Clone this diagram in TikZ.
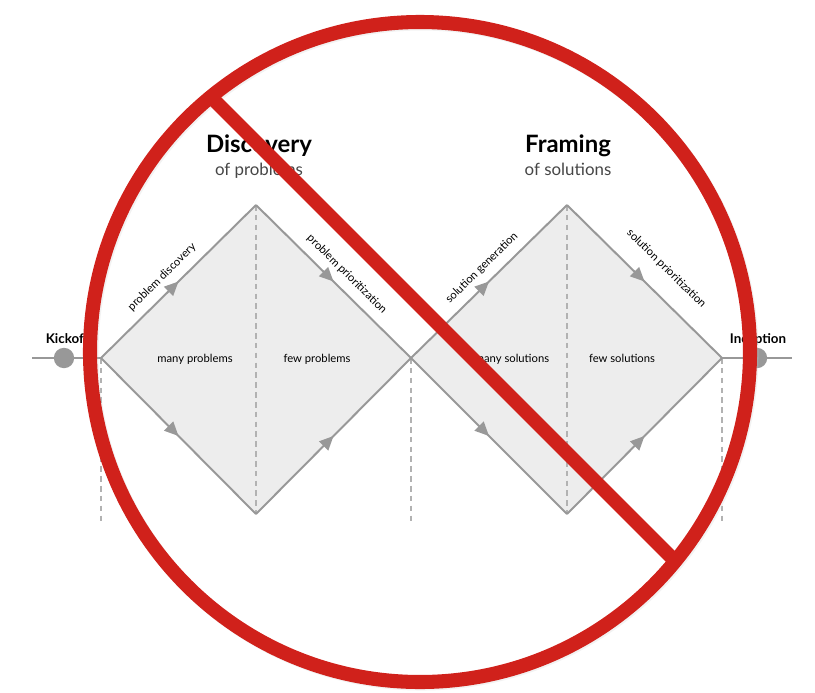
\documentclass[tikz,border=0pt]{standalone}
\usepackage{fontspec}
\setmainfont{Lato}
\usetikzlibrary{arrows.meta,decorations.markings}
\definecolor{stopred}{RGB}{208,33,27}
\definecolor{linegray}{RGB}{152,152,152}
\definecolor{fillgray}{RGB}{237,237,237}
\definecolor{dashgray}{RGB}{178,178,178}
\definecolor{subgray}{RGB}{70,70,70}
\begin{document}
\begin{tikzpicture}[x=0.025cm,y=-0.025cm,
  flow/.style={color=linegray,line width=1.4pt,postaction={decorate},
    decoration={markings,mark=at position 0.5 with {\arrow{Triangle[length=10pt,width=9pt]}}}},
  guide/.style={draw=dashgray,line width=0.8pt,dash pattern=on 4pt off 3pt},
  steplabel/.style={font=\fontsize{8}{9}\selectfont,text=black,sloped,above=5pt,inner sep=1pt},
  phase/.style={font=\fontsize{8}{9}\selectfont,anchor=base},
  title/.style={font=\fontsize{17}{19}\selectfont\bfseries,anchor=base},
  subtitle/.style={font=\fontsize{12}{14}\selectfont,text=subgray,anchor=base},
  milestone/.style={circle,fill=linegray,minimum size=14.5pt,inner sep=0pt},
  stopmark/.style={draw=stopred,line width=10pt}]
\useasboundingbox (0,0) rectangle (815,692);

% points of the two diamonds
\coordinate (d1l) at (101,358);
\coordinate (d1t) at (256,205);
\coordinate (d1b) at (256,514);
\coordinate (mid) at (411,358);
\coordinate (d2t) at (567,205);
\coordinate (d2b) at (567,514);
\coordinate (d2r) at (722,358);
\coordinate (axl) at (32,358);
\coordinate (axr) at (792,358);

\fill[fillgray] (d1l) -- (d1t) -- (mid) -- (d1b) -- cycle;
\fill[fillgray] (mid) -- (d2t) -- (d2r) -- (d2b) -- cycle;

% dashed guides
\draw[guide] (d1l) -- (101,525);
\draw[guide] (d1t) -- (d1b);
\draw[guide] (mid) -- (411,525);
\draw[guide] (d2t) -- (d2b);
\draw[guide] (d2r) -- (722,525);

% axis and milestones
\draw[linegray,line width=1.4pt] (axl) -- (d1l);
\draw[linegray,line width=1.4pt] (d2r) -- (axr);
\node[milestone] (kickoff) at (64,358) {};
\node[milestone] (inception) at (757,358) {};
\node[font=\fontsize{9.5}{11}\selectfont\bfseries,anchor=base] (kicktxt) at (67,343) {Kickoff};
\node[font=\fontsize{9.5}{11}\selectfont\bfseries,anchor=base] (incepttxt) at (758,343) {Inception};

% edges
\draw[flow] (d1l) -- (d1t) node[steplabel,pos=0.46] (pdisc) {problem discovery};
\draw[flow] (d1t) -- (mid) node[steplabel,pos=0.52] (pprio) {problem prioritization};
\draw[flow] (d1l) -- (d1b);
\draw[flow] (d1b) -- (mid);
\draw[flow] (mid) -- (d2t) node[steplabel,pos=0.52] (sgen) {solution generation};
\draw[flow] (d2t) -- (d2r) node[steplabel,pos=0.53,above=7pt] (sprio) {solution prioritization};
\draw[flow] (mid) -- (d2b);
\draw[flow] (d2b) -- (d2r);

% inner labels
\node[phase] (manyp) at (195,362) {many problems};
\node[phase] (fewp) at (317,362) {few problems};
\node[phase] (manys) at (512,362) {many solutions};
\node[phase] (fews) at (622,362) {few solutions};

% titles
\node[title] (disc) at (259,152) {Discovery};
\node[subtitle] (discsub) at (259,175) {of problems};
\node[title] (fram) at (568,152) {Framing};
\node[subtitle] (framsub) at (568,175) {of solutions};

% the stop sign
\draw[black!20,line width=10pt,opacity=0.25] (421.5,353.5) circle (330);
\draw[stopmark,line cap=butt] (212,98) -- (674,560);
\draw[stopmark] (420,352) circle (330);
\end{tikzpicture}
\end{document}
